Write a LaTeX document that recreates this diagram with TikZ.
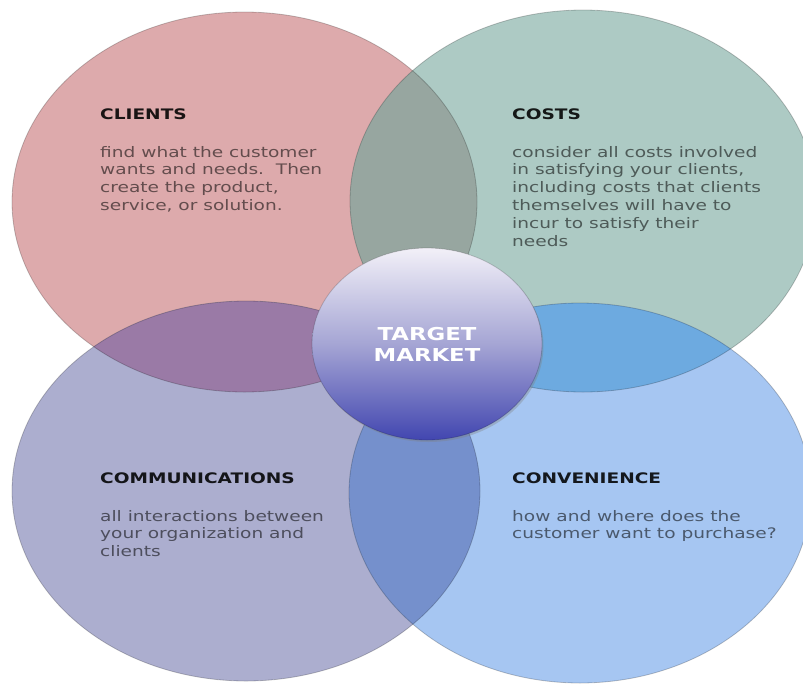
\documentclass[tikz,border=0pt]{standalone}
\usepackage{fontspec}
\setmainfont{DejaVu Sans}[FakeStretch=1.28]
\usetikzlibrary{shapes.geometric,shadows}
\definecolor{cPink}{RGB}{221,170,172}
\definecolor{cTeal}{RGB}{173,202,196}
\definecolor{cLav}{RGB}{172,174,207}
\definecolor{cBlue}{RGB}{166,198,242}
\definecolor{oPinkTeal}{RGB}{151,166,160}
\definecolor{oPinkLav}{RGB}{154,122,166}
\definecolor{oTealBlue}{RGB}{109,170,224}
\definecolor{oLavBlue}{RGB}{117,144,204}
\definecolor{tmTop}{RGB}{242,240,248}
\definecolor{tmMid}{RGB}{165,165,212}
\definecolor{tmBot}{RGB}{66,70,176}
\begin{document}
\begin{tikzpicture}[x=1pt,y=-1pt,
  rim/.style={draw=black, draw opacity=0.22, line width=0.8pt},
  head/.style={anchor=base west, inner sep=0pt, text=black, text opacity=0.88,
    font=\bfseries\fontsize{14.5}{17.8}\selectfont},
  body/.style={anchor=base west, inner sep=0pt, align=left, text=black, text opacity=0.55,
    font=\fontsize{14.5}{17.8}\selectfont}]
\useasboundingbox[fill=white] (0,0) rectangle (803,683);
\def\clientsE{(244.5,202) ellipse [x radius=232.5pt, y radius=190pt]}
\def\costsE{(583,201) ellipse [x radius=233pt, y radius=191pt]}
\def\commE{(246,491) ellipse [x radius=234pt, y radius=190pt]}
\def\convE{(580,493) ellipse [x radius=231pt, y radius=190pt]}
% base ellipses
\fill[cPink] \clientsE;
\fill[cTeal] \costsE;
\fill[cLav] \commE;
\fill[cBlue] \convE;
% overlaps
\begin{scope}\clip \clientsE; \fill[oPinkTeal] \costsE; \fill[oPinkLav] \commE; \end{scope}
\begin{scope}\clip \convE; \fill[oTealBlue] \costsE; \fill[oLavBlue] \commE; \end{scope}
% outlines
\path[rim] \clientsE;
\path[rim] \costsE;
\path[rim] \commE;
\path[rim] \convE;
% centre
\node (tm) [ellipse, minimum width=230pt, minimum height=192pt, inner sep=0pt,
  top color=tmTop, bottom color=tmBot, middle color=tmMid,
  draw=black, draw opacity=0.18, line width=0.8pt,
  drop shadow={shadow xshift=1.5pt, shadow yshift=-2pt, opacity=0.35},
  align=center, text=white, font=\bfseries\fontsize{17.8}{21}\selectfont]
  at (427,344) {TARGET\\MARKET};
% texts (body nodes are anchored at the baseline of their last line)
\node (clh) [head] at (100,119) {CLIENTS};
\node (clb) [body] at (100,210.4) {find what the customer\\wants and needs.\ \ Then\\create the product,\\service, or solution.};
\node (coh) [head] at (512,119) {COSTS};
\node (cob) [body] at (512,246) {consider all costs involved\\in satisfying your clients,\\including costs that clients\\themselves will have to\\incur to satisfy their\\needs};
\node (cmh) [head] at (100,483) {COMMUNICATIONS};
\node (cmb) [body] at (100,556.6) {all interactions between\\your organization and\\clients};
\node (cvh) [head] at (512,483) {CONVENIENCE};
\node (cvb) [body] at (512,538.8) {how and where does the\\customer want to purchase?};
\end{tikzpicture}
\end{document}
